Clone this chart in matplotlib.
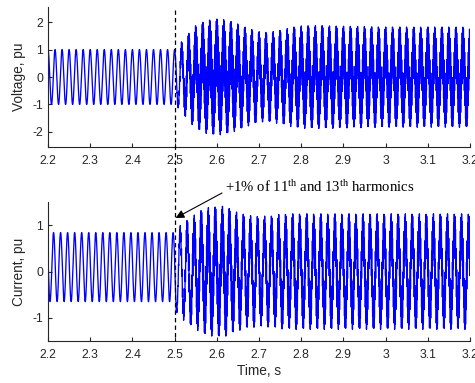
import numpy as np
import matplotlib
matplotlib.use("Agg")
import matplotlib.pyplot as plt
from matplotlib.ticker import FormatStrFormatter
from matplotlib.lines import Line2D
from matplotlib.patches import FancyArrowPatch

# ---- signal description -------------------------------------------------
t_start, t_event, t_end = 2.2, 2.5, 3.2   # s
f_fund = 60.0        # fundamental frequency, Hz
f_osc = 690.0        # high-frequency oscillation after the event, Hz
fs = 20000.0         # sampling rate, Hz

# Voltage (pu): fundamental amplitude and peak envelope after the event
v_fund_amp = 1.0
v_env_t = [2.50, 2.51, 2.52, 2.535, 2.55, 2.57, 2.585, 2.60, 2.615, 2.63, 2.65,
           2.67, 2.69, 2.705, 2.72, 2.74, 2.755, 2.77, 2.785, 2.80, 2.85, 2.90,
           3.00, 3.10, 3.20]
v_env_pk = [1.00, 1.15, 1.37, 1.62, 1.88, 2.03, 2.10, 2.12, 2.10, 2.05, 1.94,
            1.81, 1.70, 1.64, 1.63, 1.68, 1.72, 1.79, 1.84, 1.87, 1.88, 1.86,
            1.83, 1.83, 1.83]

# Current (pu): pre-event amplitude/offset and peak envelope after the event
i_pre_amp = 0.745
i_pre_offset = 0.095
i_phase = 1.33
i_fund_amp = 0.85
i_env_t = [2.50, 2.513, 2.529, 2.545, 2.561, 2.577, 2.593, 2.609, 2.625, 2.646,
           2.662, 2.678, 2.694, 2.725, 2.75, 2.78, 2.80, 3.20]
i_env_pk = [0.85, 0.99, 1.11, 1.21, 1.32, 1.38, 1.40, 1.42, 1.39, 1.29,
            1.25, 1.21, 1.20, 1.20, 1.24, 1.25, 1.25, 1.25]

x_ticks = [2.2, 2.3, 2.4, 2.5, 2.6, 2.7, 2.8, 2.9, 3.0, 3.1, 3.2]
v_ticks = [-2, -1, 0, 1, 2]
i_ticks = [-1, 0, 1]
annotation = r"+1% of 11$^{\mathrm{th}}$ and 13$^{\mathrm{th}}$ harmonics"

# ---- waveforms ----------------------------------------------------------
t = np.arange(t_start, t_end + 0.5 / fs, 1.0 / fs)
w = 2 * np.pi * f_fund * (t - t_start)
post = t >= t_event
osc = np.sin(2 * np.pi * f_osc * (t - t_event))

v_h = np.clip(np.interp(t, v_env_t, v_env_pk) - v_fund_amp, 0, None) * post
voltage = v_fund_amp * np.cos(w) + v_h * osc

i_h = np.clip(np.interp(t, i_env_t, i_env_pk) - i_fund_amp, 0, None) * post
current = np.where(post,
                   i_fund_amp * np.cos(w + i_phase) + i_h * osc,
                   i_pre_offset + i_pre_amp * np.cos(w + i_phase))

# ---- figure -------------------------------------------------------------
plt.rcParams["font.family"] = ["Liberation Sans", "DejaVu Sans"]
plt.rcParams["axes.unicode_minus"] = False
plt.rcParams["mathtext.fontset"] = "custom"
plt.rcParams["mathtext.rm"] = "Liberation Serif"
plt.rcParams["mathtext.it"] = "Liberation Serif:italic"

W, H = 475, 383
fig = plt.figure(figsize=(W / 100, H / 100), dpi=100)

def px_axes(left, top, right, bottom):
    return fig.add_axes([left / W, 1 - bottom / H, (right - left) / W, (bottom - top) / H])

ax_v = px_axes(48, 7, 470, 147)
ax_i = px_axes(48, 202, 470, 341)

gray = "#262626"
for ax, y, ticks, lim, lab in [
    (ax_v, voltage, v_ticks, 2.55, "Voltage, pu"),
    (ax_i, current, i_ticks, 1.5, "Current, pu"),
]:
    ax.plot(t, y, color="#0000ff", lw=0.95, antialiased=True)
    ax.set_xlim(t_start, t_end)
    ax.set_ylim(-lim, lim)
    ax.set_xticks(x_ticks)
    ax.set_yticks(ticks)
    ax.xaxis.set_major_formatter(FormatStrFormatter("%g"))
    ax.spines["top"].set_visible(False)
    ax.spines["right"].set_visible(False)
    for s in ("left", "bottom"):
        ax.spines[s].set_color(gray)
        ax.spines[s].set_linewidth(0.8)
    ax.tick_params(direction="in", length=3, width=0.8, colors=gray,
                   labelsize=8.8, pad=3.5)
    ax.tick_params(axis="x", pad=6)
    ax.set_ylabel(lab, fontsize=9.8, color=gray)
    ax.yaxis.set_label_coords(-0.052, 0.5)

ax_i.set_xlabel("Time, s", fontsize=9.8, color=gray, labelpad=2)

# dashed marker of the event time across both panels
x_ev = ax_v.transData.transform((t_event, 0))[0]
x_evf = fig.transFigure.inverted().transform((x_ev, 0))[0]
fig.add_artist(Line2D([x_evf, x_evf], [1 - 10 / H, 1 - 341 / H],
                      transform=fig.transFigure, color="black",
                      lw=0.9, ls=(0, (3.5, 2.5))))

# annotation arrow pointing at the event
fig.text(225 / W, 1 - 192.5 / H, annotation, fontsize=10.6, va="baseline",
         ha="left", family="Liberation Serif", color="black")
fig.add_artist(FancyArrowPatch(
    (222 / W, 1 - 193 / H), (x_evf + 1 / W, 1 - 218 / H),
    transform=fig.transFigure, arrowstyle="-|>,head_length=5,head_width=2.5",
    color="black", lw=0.8, shrinkA=0, shrinkB=0))

fig.savefig("out.png", dpi=100)
